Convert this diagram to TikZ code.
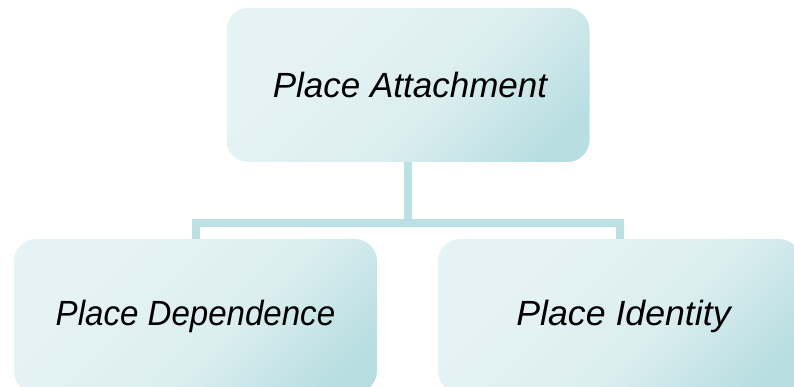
\documentclass[tikz,border=0pt]{standalone}
\usepackage{fontspec}
\setmainfont{Liberation Sans}
\definecolor{boxlight}{RGB}{230,243,244}
\definecolor{boxmid}{RGB}{220,238,240}
\definecolor{boxdark}{RGB}{184,222,225}
\definecolor{connc}{RGB}{188,224,227}
\pgfdeclarehorizontalshading{boxshade}{100bp}{color(0bp)=(boxlight); color(30bp)=(boxlight); color(56bp)=(boxmid); color(78bp)=(boxdark); color(100bp)=(boxdark)}
\begin{document}
\begin{tikzpicture}[x=1pt,y=1pt,
  box/.style={rectangle, rounded corners=22pt, minimum width=363pt, minimum height=154pt,
    inner sep=0pt, shading=boxshade, shading angle=-45,
    font=\fontsize{35}{40}\selectfont\itshape, text=black},
  conn/.style={draw=connc, line width=8pt}]
\useasboundingbox (0,0) rectangle (794,387);
\clip (0,0) rectangle (794,387);
\node[box, shade] (top) at (408,302) {\hspace{4pt}\raisebox{-4pt}{Place Attachment}};
\node[box, shade] (left) at (195.5,71) {\raisebox{-1pt}{\scalebox{0.945}[1]{Place Dependence}}};
\node[box, shade] (right) at (619.5,71) {\hspace{8pt}\raisebox{-1pt}{\scalebox{1.02}[1]{Place Identity}}};
\draw[conn] (top.south) -- ++(0,-61) coordinate (j);
\draw[conn] (left.north) |- (j) -| (right.north);
\end{tikzpicture}
\end{document}
